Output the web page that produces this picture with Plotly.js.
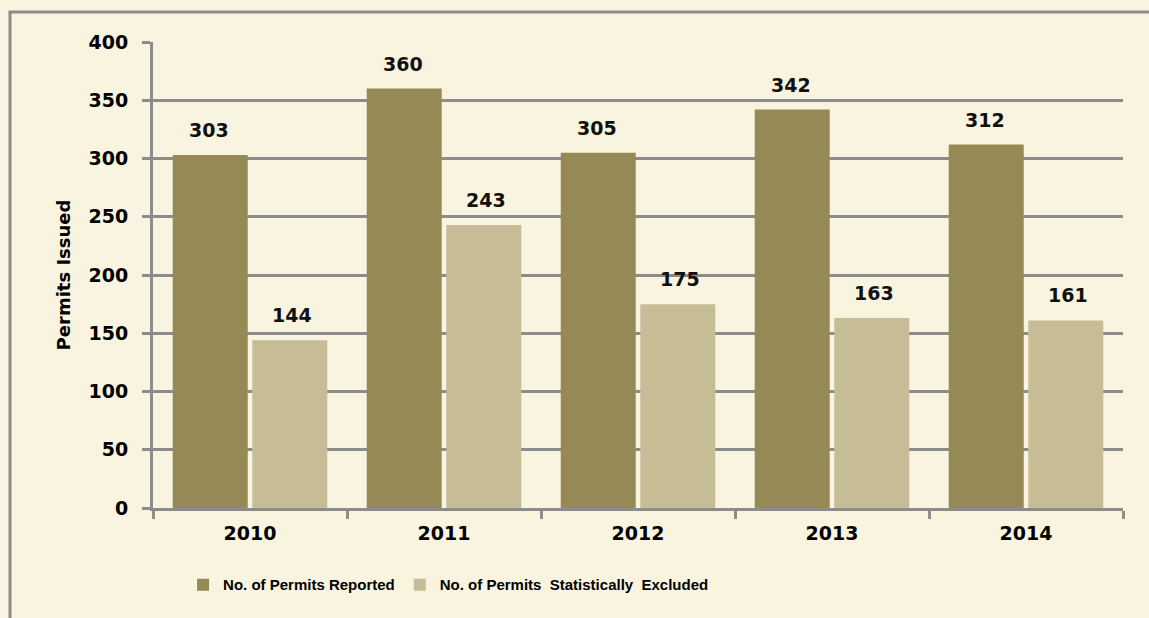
<!DOCTYPE html>
<html>
<head>
<meta charset="utf-8">
<script src="https://cdn.plot.ly/plotly-3.0.1.min.js"></script>
<style>
  html, body { margin: 0; padding: 0; background: #F9F4DF; }
  #chart { width: 1149px; height: 618px; }
</style>
</head>
<body>
<div id="chart"></div>
<script>
const years = ['2010', '2011', '2012', '2013', '2014'];
const reported = [303, 360, 305, 342, 312];
const excluded = [144, 243, 175, 163, 161];
const seriesNames = ['No. of Permits Reported', 'No. of Permits  Statistically  Excluded'];
const yTicks = [0, 50, 100, 150, 200, 250, 300, 350, 400];

const darkColor = '#958A55';
const lightColor = '#C6BD97';
const gridColor = '#8C8C8C';
const wideFont = 'DejaVu Sans, Verdana, sans-serif';
const narrowFont = 'Liberation Sans, Arial, sans-serif';

const traces = [
  { type: 'bar', x: years, y: reported, name: seriesNames[0], marker: { color: darkColor }, hoverinfo: 'skip' },
  { type: 'bar', x: years, y: excluded, name: seriesNames[1], marker: { color: lightColor }, hoverinfo: 'skip' }
];

const annotations = [];
[reported, excluded].forEach((series, si) => {
  series.forEach((v, i) => {
    annotations.push({
      x: i, y: v, xref: 'x', yref: 'y',
      text: String(v), showarrow: false,
      xshift: si === 0 ? -41.5 : 41.5,
      yanchor: 'bottom', yshift: 12,
      font: { family: wideFont, size: 19, color: '#111', weight: 'bold' }
    });
  });
});

const layout = {
  width: 1149, height: 618,
  margin: { l: 153, r: 26, t: 42, b: 110 },
  paper_bgcolor: '#F9F4DF',
  plot_bgcolor: '#F9F4DF',
  barmode: 'group',
  bargap: 0.18,
  bargroupgap: 0.057,
  showlegend: true,
  legend: {
    orientation: 'h', x: 0.031, xanchor: 'left', y: -0.165, yanchor: 'middle',
    font: { family: narrowFont, size: 15, color: '#000', weight: 'bold' },
    bgcolor: 'rgba(0,0,0,0)',
    itemwidth: 30, traceorder: 'normal'
  },
  xaxis: {
    type: 'category',
    range: [-0.5, years.length - 0.5],
    autorange: false,
    showgrid: false,
    showline: true, linecolor: gridColor, linewidth: 3,
    ticks: 'outside', tickson: 'boundaries', ticklen: 8, tickwidth: 3, tickcolor: gridColor,
    tickfont: { family: wideFont, size: 19, color: '#000', weight: 'bold' },
    ticklabelstandoff: 6,
    fixedrange: true
  },
  yaxis: {
    range: [0, 400],
    autorange: false,
    tickvals: yTicks,
    ticktext: yTicks.map(String),
    showgrid: true, gridcolor: gridColor, gridwidth: 3,
    zeroline: false,
    showline: true, linecolor: gridColor, linewidth: 3,
    ticks: 'outside', ticklen: 8, tickwidth: 3, tickcolor: gridColor,
    tickfont: { family: wideFont, size: 19, color: '#000', weight: 'bold' },
    ticklabelstandoff: 10,
    title: { text: 'Permits Issued', font: { family: wideFont, size: 18, color: '#000', weight: 'bold' }, standoff: 14 },
    fixedrange: true
  },
  annotations: annotations,
  shapes: [{
    type: 'rect', xref: 'paper', yref: 'paper',
    x0: (10 - 153) / 970, x1: 1.2,
    y0: -0.4, y1: (508 - 12) / 466,
    line: { color: '#8C8C8C', width: 3 }, fillcolor: 'rgba(0,0,0,0)', layer: 'below'
  }]
};

Plotly.newPlot('chart', traces, layout, { displayModeBar: false, staticPlot: true });
</script>
</body>
</html>
